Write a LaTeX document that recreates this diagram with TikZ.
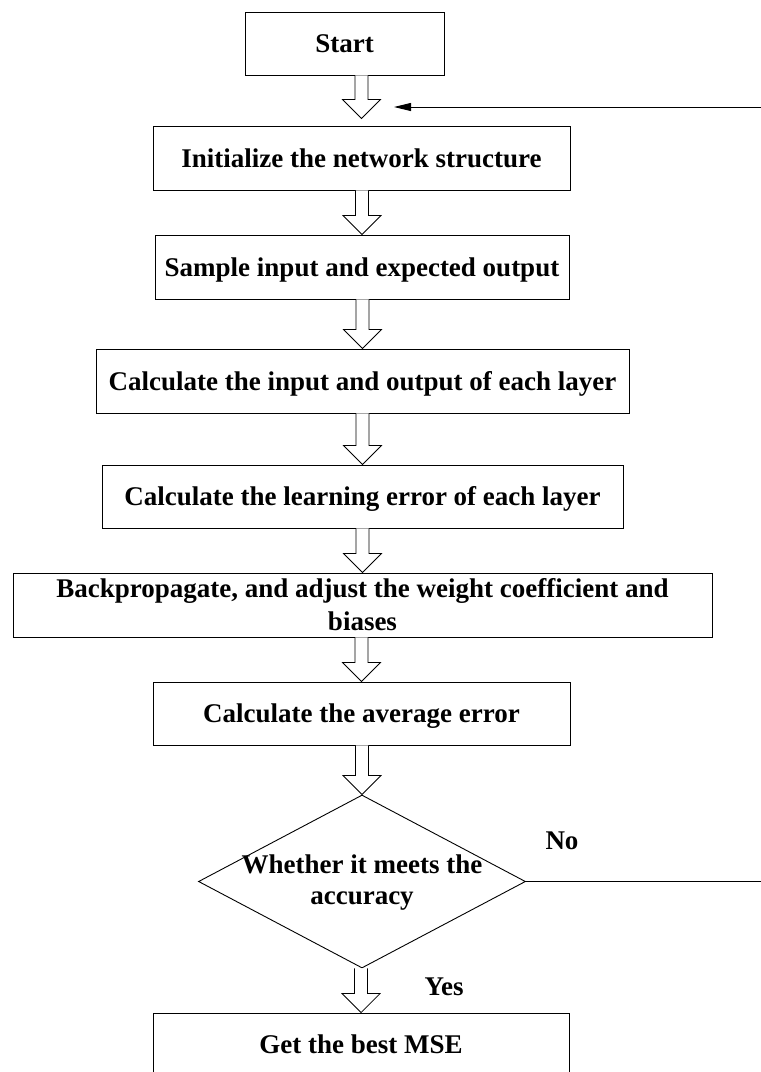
\documentclass[tikz,border=0pt]{standalone}
\usepackage{fontspec}
\setmainfont{Liberation Serif}
\usetikzlibrary{calc,arrows.meta,shapes.geometric}
\tikzset{
  txt/.style={font=\bfseries\fontsize{27}{33}\selectfont},
  box/.style={txt, draw, line width=0.9pt, rectangle, inner sep=0pt, align=center},
  onebox/.style={box, text height=18pt, text depth=0pt},
  lbl/.style={txt, inner sep=0pt, text height=18pt, text depth=0pt},
  hollow/.style={draw, line width=0.8pt, fill=white},
  link/.style={line width=0.9pt},
  decision/.style={draw, line width=0.9pt, diamond, inner sep=0pt},
}
\newcommand{\hollowarrow}[3]{%
  \path[hollow] let \p1=(#1.south), \p2=(#2.north) in
    (\x2-6.5pt,\y1) -- (\x2-6.5pt,\y2+#3+19pt) -- (\x2-19pt,\y2+#3+19pt)
    -- (\x2,\y2+#3) -- (\x2+19pt,\y2+#3+19pt) -- (\x2+6.5pt,\y2+#3+19pt)
    -- (\x2+6.5pt,\y1);}
\begin{document}
\begin{tikzpicture}[x=1pt,y=-1pt]
\path[use as bounding box] (0,0) rectangle (761,1072);
\clip (0,0) rectangle (761,1072);

\node[onebox, minimum width=199pt, minimum height=63pt] (start) at (344.5,43.5) {Start};
\node[onebox, minimum width=417pt, minimum height=64pt] (init) at (361.5,158) {Initialize the network structure};
\node[onebox, minimum width=414pt, minimum height=64pt] (sample) at (362,267) {Sample input and expected output};
\node[onebox, minimum width=533pt, minimum height=64pt] (calcio) at (362.5,381) {Calculate the input and output of each layer};
\node[onebox, minimum width=521pt, minimum height=63pt] (learn) at (362.5,496.5) {Calculate the learning error of each layer};
\node[box, minimum width=699pt, minimum height=64pt] (back) at (362.5,605) {Backpropagate, and adjust the weight coefficient and\\biases};
\node[onebox, minimum width=417pt, minimum height=63pt] (avg) at (361.5,713.5) {Calculate the average error};
\node[decision, minimum width=327pt, minimum height=173pt] (dec) at (362,881.5) {};
\node[txt, align=center, inner sep=0pt, font=\bfseries\fontsize{27}{31}\selectfont] (dectext) at (362,883) {Whether it meets the\\accuracy};
\node[onebox, minimum width=416pt, minimum height=62pt] (best) at (361,1044) {Get the best MSE};

\node[lbl] (no) at (562,840) {No};
\node[lbl] (yes) at (444,986.5) {Yes};

\hollowarrow{start}{init}{7pt}
\hollowarrow{init}{sample}{0pt}
\hollowarrow{sample}{calcio}{0pt}
\hollowarrow{calcio}{learn}{0pt}
\hollowarrow{learn}{back}{0pt}
\hollowarrow{back}{avg}{0pt}
\hollowarrow{avg}{dec}{0pt}
\hollowarrow{dec}{best}{0pt}

\coordinate (noend) at (761,881.5);
\draw[link] (dec.east) -- (noend);
\coordinate (fbstart) at (761,107);
\coordinate (fbtip) at (394,107);
\draw[link,-{Triangle[length=17pt,width=8pt]}] (fbstart) -- (fbtip);
\end{tikzpicture}
\end{document}
